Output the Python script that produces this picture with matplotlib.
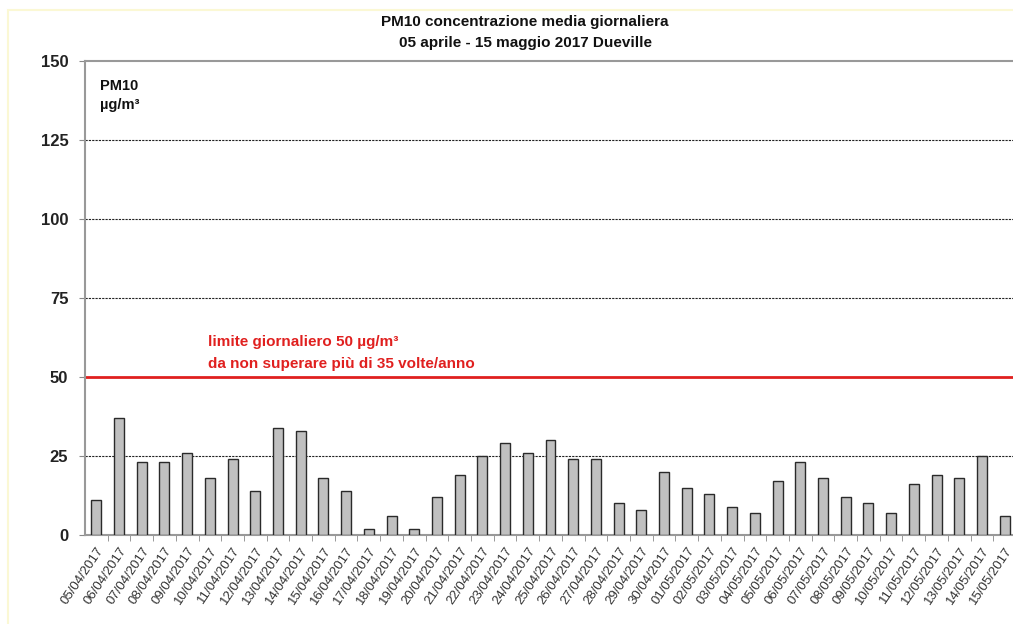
import matplotlib
matplotlib.use("Agg")
import matplotlib.pyplot as plt
from matplotlib.patches import Rectangle

dates = ["05/04/2017", "06/04/2017", "07/04/2017", "08/04/2017", "09/04/2017",
         "10/04/2017", "11/04/2017", "12/04/2017", "13/04/2017", "14/04/2017",
         "15/04/2017", "16/04/2017", "17/04/2017", "18/04/2017", "19/04/2017",
         "20/04/2017", "21/04/2017", "22/04/2017", "23/04/2017", "24/04/2017",
         "25/04/2017", "26/04/2017", "27/04/2017", "28/04/2017", "29/04/2017",
         "30/04/2017", "01/05/2017", "02/05/2017", "03/05/2017", "04/05/2017",
         "05/05/2017", "06/05/2017", "07/05/2017", "08/05/2017", "09/05/2017",
         "10/05/2017", "11/05/2017", "12/05/2017", "13/05/2017", "14/05/2017",
         "15/05/2017"]
pm10 = [11, 37, 23, 23, 26, 18, 24, 14, 34, 33,
        18, 14, 2, 6, 2, 12, 19, 25, 29, 26,
        30, 24, 24, 10, 8, 20, 15, 13, 9, 7,
        17, 23, 18, 12, 10, 7, 16, 19, 18, 25,
        6]
yticks = [0, 25, 50, 75, 100, 125, 150]
limit = 50

plt.rcParams['font.family'] = ['Liberation Sans', 'DejaVu Sans']

W, H = 1013, 624
fig = plt.figure(figsize=(W / 100, H / 100), dpi=100)
fig.patch.set_facecolor('white')

# pale yellow frame
fig.add_artist(Rectangle((8 / W, -0.05), 1.2, (H - 10) / H + 0.05,
                         transform=fig.transFigure, fill=False,
                         edgecolor='#fbf8d4', linewidth=1.5))

left, right, top, bottom = 85, 1016, 61, 535
ax = fig.add_axes([left / W, 1 - bottom / H, (right - left) / W, (bottom - top) / H])

x = list(range(len(dates)))
ax.bar(x, pm10, width=0.44, color='#c0c0c0', edgecolor='#2a2a2a',
       linewidth=1.0, zorder=3)

ax.set_xlim(-0.5, len(dates) - 0.5)
ax.set_ylim(0, 150)

for v in yticks:
    if v in (0, 150, limit):
        continue
    ax.axhline(v, color='#222222', linestyle=(0, (2, 1)), linewidth=0.8, zorder=1)
ax.axhline(limit, color='#e0201f', linewidth=2.0, zorder=2)

ax.set_yticks(yticks)
ax.set_yticklabels([str(v) for v in yticks], fontsize=12, fontweight='bold', color='#222222')
ax.tick_params(axis='y', length=4, color='#888888', pad=8)

# x ticks at category boundaries, labels at bar centres
ax.set_xticks([i + 0.5 for i in x[:-1]], minor=True)
ax.set_xticks(x)
ax.set_xticklabels(dates, rotation=56, ha='right', va='top', rotation_mode='anchor',
                   fontsize=9.5, color='#333333')
ax.tick_params(axis='x', which='major', length=0, pad=7)
ax.tick_params(axis='x', which='minor', length=4, color='#888888')

for s in ['left', 'bottom', 'top']:
    ax.spines[s].set_color('#999999')
    ax.spines[s].set_linewidth(1.5)
ax.spines['right'].set_visible(False)

fig.text(100 / W, 1 - 86 / H, "PM10",
         fontsize=10.5, fontweight='bold', color='#111111', va='center')
fig.text(100 / W, 1 - 105 / H, "µg/m³",
         fontsize=10.5, fontweight='bold', color='#111111', va='center')

fig.text(208 / W, 1 - 342 / H, "limite giornaliero 50 µg/m³",
         fontsize=11, fontweight='bold', color='#e0201f', va='center')
fig.text(208 / W, 1 - 364 / H, "da non superare più di 35 volte/anno",
         fontsize=11, fontweight='bold', color='#e0201f', va='center')

fig.text(525 / W, 1 - 22 / H, "PM10 concentrazione media giornaliera",
         ha='center', va='center', fontsize=11, fontweight='bold', color='#111111')
fig.text(525 / W, 1 - 43 / H, "05 aprile - 15 maggio 2017 Dueville",
         ha='center', va='center', fontsize=11, fontweight='bold', color='#111111')

fig.savefig("out.png", dpi=100)
